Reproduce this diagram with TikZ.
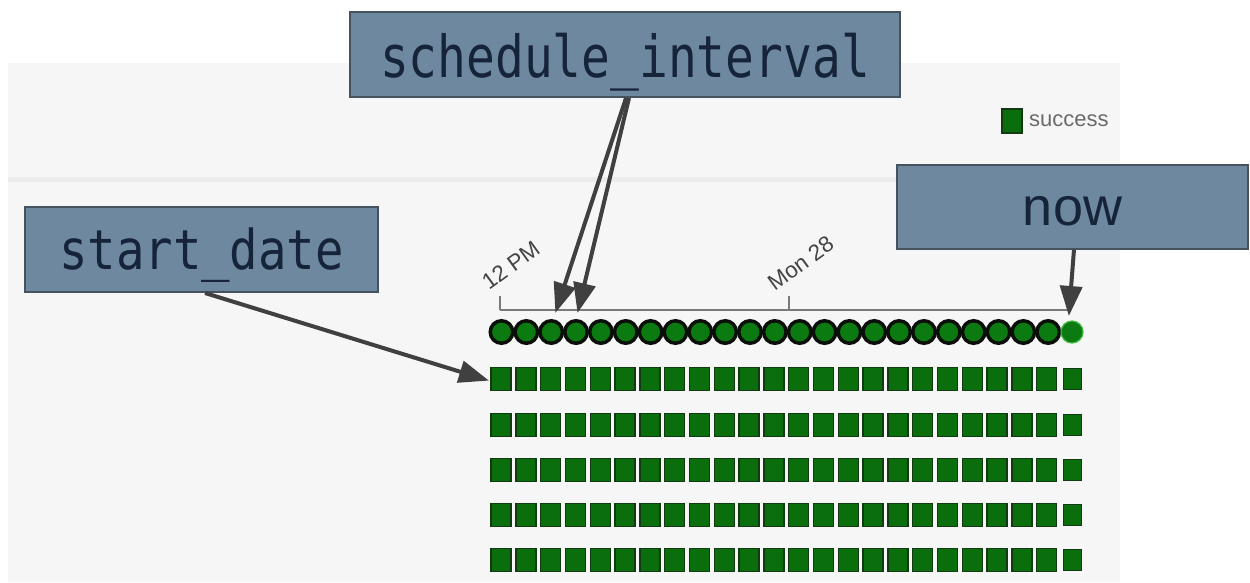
\documentclass[tikz,border=0pt]{standalone}
\usepackage{fontspec}
\setmainfont{Liberation Sans}
\newfontfamily\monowide[FakeStretch=0.86]{DejaVu Sans Mono}
\newfontfamily\mononarrow[FakeStretch=0.825]{DejaVu Sans Mono}
\usetikzlibrary{arrows.meta}

\definecolor{panel}{HTML}{F6F6F6}
\definecolor{panelrule}{HTML}{ECECEC}
\definecolor{boxfill}{HTML}{6E88A0}
\definecolor{boxedge}{HTML}{46525E}
\definecolor{boxtext}{HTML}{16243A}
\definecolor{pointergray}{HTML}{404040}
\definecolor{runfill}{HTML}{0B7A10}
\definecolor{runedge}{HTML}{0A0F0A}
\definecolor{liveedge}{HTML}{3DBA3D}
\definecolor{taskfill}{HTML}{0A6E0C}
\definecolor{taskedge}{HTML}{123A12}
\definecolor{axisgray}{HTML}{7A7A7A}
\definecolor{labelgray}{HTML}{444444}
\definecolor{legendgray}{HTML}{6A6A6A}

\tikzset{
  callout/.style={rectangle, draw=boxedge, line width=2pt, fill=boxfill,
    text=boxtext, inner sep=0pt, text depth=0pt},
  pointer/.style={draw=pointergray, line width=4pt,
    -{Triangle[length=30pt,width=22pt]}, shorten >=-2pt},
  runcircle/.style={circle, inner sep=0pt, minimum size=22.5pt,
    fill=runfill, draw=runedge, line width=3.5pt},
  livecircle/.style={circle, inner sep=0pt, minimum size=22pt,
    fill=runfill, draw=liveedge, line width=1.2pt},
  taskbox/.style={rectangle, inner sep=0pt, minimum width=20pt,
    minimum height=23pt, fill=taskfill, draw=taskedge, line width=1.4pt},
  livebox/.style={rectangle, inner sep=0pt, minimum width=18pt,
    minimum height=21pt, fill=taskfill, draw=taskedge, line width=1.4pt},
  axisline/.style={draw=axisgray, line width=2pt},
  axislabel/.style={text=labelgray, font=\fontsize{22.5}{22.5}\selectfont,
    inner sep=0pt, rotate=36, anchor=south west},
}

\begin{document}
\begin{tikzpicture}[x=1pt, y=-1pt]
  \useasboundingbox (0,0) rectangle (1250,582);
  \fill[white] (0,0) rectangle (1250,582);

  % grey page panel with its header rule
  \fill[panel] (8,63) rectangle (1120,582);
  \fill[panelrule] (8,177) rectangle (1120,182);

  % legend
  \node[taskbox, minimum width=20pt, minimum height=24pt] (legbox) at (1012,121) {};
  \node[anchor=west, text=legendgray, font=\fontsize{22}{22}\selectfont, inner sep=0pt]
    (legtext) at (1029,121) {success};

  % time axis
  \draw[axisline] (500,310) -- (1068,310);
  \draw[axisline] (500,296) -- (500,310);
  \draw[axisline] (789,296) -- (789,310);
  \draw[axisline] (1068,304) -- (1068,310);
  \node[axislabel] (lblnoon) at (489,291) {12 PM};
  \node[axislabel] (lblmon) at (775,292) {Mon 28};

  % DAG runs
  \foreach \k in {0,...,22}
    \node[runcircle] (run\k) at ({501.5+24.85*\k},332) {};
  \node[livecircle] (runlive) at (1072,332) {};

  % task instances
  \foreach \r/\y in {1/379,2/425,3/470,4/515,5/560} {
    \foreach \k in {0,...,22}
      \node[taskbox] (task\r-\k) at ({501+24.8*\k},\y) {};
    \node[livebox] (task\r-live) at (1072.5,\y) {};
  }

  % callouts
  \node[callout, minimum width=550pt, minimum height=85pt, text height=46pt]
    (sched) at (625,54.5)
    {\mononarrow\fontsize{58}{58}\selectfont schedule\_interval};
  \node[callout, minimum width=353pt, minimum height=85pt, text height=40pt]
    (start) at (201.5,249.5)
    {\monowide\fontsize{55}{55}\selectfont start\_date};
  \node[callout, minimum width=351pt, minimum height=84pt, text height=37pt]
    (now) at (1072.5,206.5)
    {\fontsize{54}{54}\selectfont now};

  % pointer targets
  \coordinate (sdtip) at (487,380);
  \coordinate (iv1) at (556,311);
  \coordinate (iv2) at (578,311);
  \coordinate (nowtip) at (1069,314);

  % pointers
  \draw[pointer] ([xshift=3.5pt]start.south) -- (sdtip);
  \draw[pointer] ([xshift=1pt]sched.south) -- (iv1);
  \draw[pointer] ([xshift=4pt]sched.south) -- (iv2);
  \draw[pointer] ([xshift=1.5pt]now.south) -- (nowtip);
\end{tikzpicture}
\end{document}
